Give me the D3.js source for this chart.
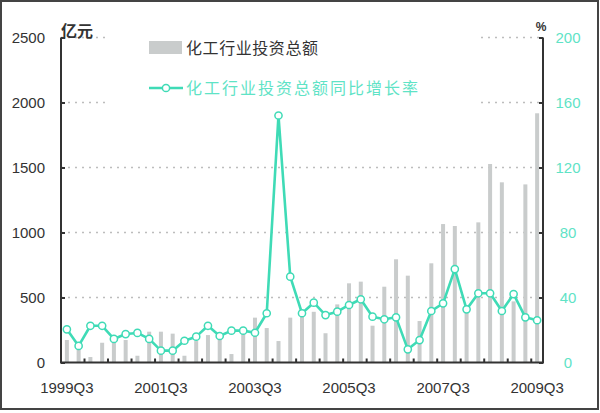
<!DOCTYPE html>
<html>
<head>
<meta charset="utf-8">
<script src="https://cdn.jsdelivr.net/npm/d3@7"></script>
<style>
  body { margin: 0; background: #fff; }
  svg { display: block; }
</style>
</head>
<body>
<svg width="600" height="413"></svg>
<script>
const quarters = [
  "1999Q3", "1999Q4", "2000Q1", "2000Q2", "2000Q3", "2000Q4", "2001Q1", "2001Q2",
  "2001Q3", "2001Q4", "2002Q1", "2002Q2", "2002Q3", "2002Q4", "2003Q1", "2003Q2",
  "2003Q3", "2003Q4", "2004Q1", "2004Q2", "2004Q3", "2004Q4", "2005Q1", "2005Q2",
  "2005Q3", "2005Q4", "2006Q1", "2006Q2", "2006Q3", "2006Q4", "2007Q1", "2007Q2",
  "2007Q3", "2007Q4", "2008Q1", "2008Q2", "2008Q3", "2008Q4", "2009Q1", "2009Q2",
  "2009Q3"
];

// 化工行业投资总额 (亿元)
const investment = [
  173, 100, 42, 152, 188, 173, 52, 237,
  237, 222, 52, 165, 211, 180, 65, 219,
  345, 265, 165, 345, 352, 390, 225, 447,
  609, 622, 283, 583, 794, 668, 319, 763,
  1065, 1050, 380, 1078, 1527, 1386, 470, 1370,
  1917
];

// 同比增长率 (%)
const growth = [
  20.4, 10.2, 22.6, 22.6, 14.5, 17.5, 18.2, 14.5,
  7.3, 7.3, 13.4, 15.9, 22.6, 16.3, 19.6, 19.6,
  18.3, 30.3, 152, 52.8, 30.3, 36.8, 29.2, 31.3,
  35.4, 38.9, 28.2, 26.6, 27.8, 8.1, 13.8, 31.7,
  36.4, 57.5, 32.7, 42.6, 42.6, 31.7, 42.1, 27.8,
  26.0
];

const leftTicks = [0, 500, 1000, 1500, 2000, 2500];
const rightTicks = [0, 40, 80, 120, 160, 200];
const xLabels = ["1999Q3", "2001Q3", "2003Q3", "2005Q3", "2007Q3", "2009Q3"];

const svg = d3.select("svg");
const plotLeft = 61, plotRight = 543, plotTop = 37.5, plotBottom = 362.5;
const lineColor = "#3fdbb6";
const textFont = "'Liberation Sans', 'DejaVu Sans', sans-serif";
const cjkFont = "'Noto Sans CJK SC', sans-serif";

const x = d3.scaleBand().domain(quarters).range([plotLeft, plotRight]).padding(0);
const yL = d3.scaleLinear().domain([0, 2500]).range([plotBottom, plotTop]);
const yR = d3.scaleLinear().domain([0, 200]).range([plotBottom, plotTop]);
const cx = q => x(q) + x.bandwidth() / 2;

// frame
svg.append("rect")
  .attr("x", 1).attr("y", 1).attr("width", 597).attr("height", 408)
  .attr("fill", "none").attr("stroke", "#444").attr("stroke-width", 2);

// grid lines
svg.append("g")
  .selectAll("line")
  .data(leftTicks.slice(1))
  .join("line")
  .attr("x1", plotLeft).attr("x2", plotRight)
  .attr("y1", d => yL(d)).attr("y2", d => yL(d))
  .attr("stroke", "#bdbdbd")
  .attr("stroke-width", 1.3)
  .attr("stroke-dasharray", "2,5");

// legend background hides the grid behind it
svg.append("rect")
  .attr("x", 106).attr("y", 28).attr("width", 370).attr("height", 80)
  .attr("fill", "#fff");

// bars
svg.append("g")
  .selectAll("rect")
  .data(investment)
  .join("rect")
  .attr("x", (d, i) => cx(quarters[i]) - 2)
  .attr("y", d => yL(d))
  .attr("width", 4)
  .attr("height", d => plotBottom - yL(d))
  .attr("fill", "#c9cccc");

// growth line
const line = d3.line()
  .x((d, i) => cx(quarters[i]))
  .y(d => yR(d));

svg.append("path")
  .datum(growth)
  .attr("d", line)
  .attr("fill", "none")
  .attr("stroke", lineColor)
  .attr("stroke-width", 2.6)
  .attr("stroke-linejoin", "round");

svg.append("g")
  .selectAll("circle")
  .data(growth)
  .join("circle")
  .attr("cx", (d, i) => cx(quarters[i]))
  .attr("cy", d => yR(d))
  .attr("r", 3.6)
  .attr("fill", "#fff")
  .attr("stroke", lineColor)
  .attr("stroke-width", 1.5);

// axes (ticks point inward)
const axisL = svg.append("g")
  .attr("transform", `translate(${plotLeft},0)`)
  .call(d3.axisRight(yL).tickValues(leftTicks).tickSize(4).tickFormat(""));
const axisR = svg.append("g")
  .attr("transform", `translate(${plotRight},0)`)
  .call(d3.axisLeft(yR).tickValues(rightTicks).tickSize(4).tickFormat(""));
const tickQuarters = quarters.filter((q, i) => i > 0 && i % 2 === 0);
const axisB = svg.append("g")
  .attr("transform", `translate(0,${plotBottom})`)
  .call(d3.axisTop(x).tickValues(tickQuarters).tickSize(4).tickFormat(""));
axisB.selectAll(".tick").attr("transform", d => `translate(${x(d)},0)`);

[axisL, axisR, axisB].forEach(g => {
  g.select(".domain").remove();
  g.selectAll(".tick line").attr("stroke", "#333").attr("stroke-width", 2);
});

svg.append("path")
  .attr("d", `M${plotLeft},${plotTop}V${plotBottom}H${plotRight}V${plotTop}`)
  .attr("fill", "none")
  .attr("stroke", "#333")
  .attr("stroke-width", 2);

// left tick labels
svg.append("g")
  .selectAll("text")
  .data(leftTicks)
  .join("text")
  .attr("x", 45)
  .attr("y", d => yL(d) + 5)
  .attr("text-anchor", "end")
  .attr("font-family", textFont)
  .attr("font-size", 15)
  .attr("fill", "#333")
  .text(d => d);

// right tick labels
svg.append("g")
  .selectAll("text")
  .data(rightTicks)
  .join("text")
  .attr("x", 568)
  .attr("y", d => yR(d) + 5)
  .attr("text-anchor", "middle")
  .attr("font-family", textFont)
  .attr("font-size", 15)
  .attr("fill", "#5fe3c6")
  .text(d => d);

// x labels
svg.append("g")
  .selectAll("text")
  .data(xLabels)
  .join("text")
  .attr("x", d => cx(d))
  .attr("y", 393)
  .attr("text-anchor", "middle")
  .attr("font-family", textFont)
  .attr("font-size", 15)
  .attr("fill", "#333")
  .text(d => d);

// units
svg.append("text")
  .attr("x", 61).attr("y", 37)
  .attr("font-family", cjkFont)
  .attr("font-size", 16)
  .attr("font-weight", "bold")
  .attr("fill", "#333")
  .text("亿元");

svg.append("text")
  .attr("x", 541).attr("y", 31)
  .attr("text-anchor", "middle")
  .attr("font-family", textFont)
  .attr("font-size", 12)
  .attr("font-weight", "bold")
  .attr("fill", "#333")
  .text("%");

// legend
svg.append("rect")
  .attr("x", 149).attr("y", 41).attr("width", 33).attr("height", 13)
  .attr("fill", "#c9cccc");
svg.append("text")
  .attr("x", 186).attr("y", 54)
  .attr("font-family", cjkFont)
  .attr("font-size", 16)
  .attr("fill", "#333")
  .attr("textLength", 132)
  .text("化工行业投资总额");

svg.append("line")
  .attr("x1", 149).attr("x2", 183).attr("y1", 88).attr("y2", 88)
  .attr("stroke", lineColor).attr("stroke-width", 2.6);
svg.append("circle")
  .attr("cx", 166).attr("cy", 88).attr("r", 3.6)
  .attr("fill", "#fff").attr("stroke", lineColor).attr("stroke-width", 1.5);
svg.append("text")
  .attr("x", 186).attr("y", 94)
  .attr("font-family", cjkFont)
  .attr("font-size", 16)
  .attr("fill", "#5fe3c6")
  .attr("textLength", 232)
  .text("化工行业投资总额同比增长率");
</script>
</body>
</html>
